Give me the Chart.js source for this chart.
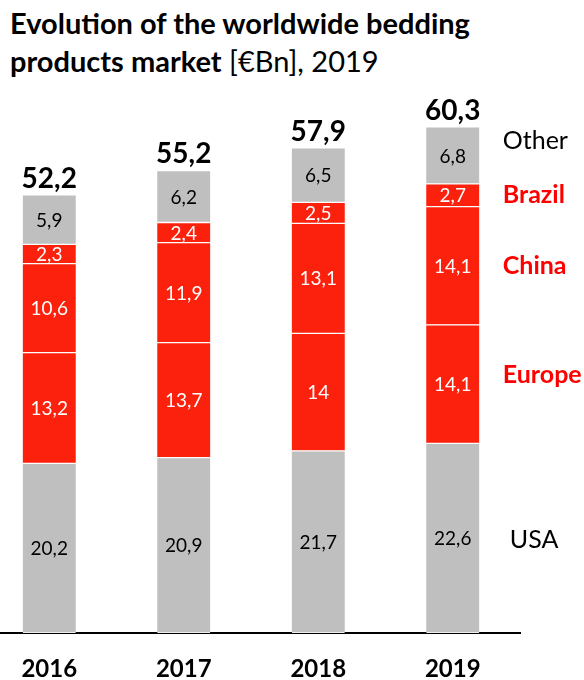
<!doctype html>
<html lang="en">
<head>
<meta charset="utf-8">
<script src="https://cdn.jsdelivr.net/npm/chart.js"></script>
<title>Bedding products market</title>
<style>
  body { margin: 0; background: #fff; overflow: hidden; }
  .title {
    position: absolute; left: 10px; top: 4px;
    font-family: Lato, sans-serif; font-size: 29px; line-height: 38px; color: #000;
  }
  .title b { font-weight: 700; }
  .chartBox { position: absolute; left: -18px; top: 0; width: 602px; height: 705px; }
</style>
</head>
<body>
  <div class="title"><b>Evolution of the worldwide bedding</b><br><b>products market</b> [€Bn], 2019</div>
  <div class="chartBox"><canvas id="myChart"></canvas></div>

<script>
  // market size by region, €Bn
  const years = ['2016', '2017', '2018', '2019'];
  const usa = [20.2, 20.9, 21.7, 22.6];
  const europe = [13.2, 13.7, 14, 14.1];
  const china = [10.6, 11.9, 13.1, 14.1];
  const brazil = [2.3, 2.4, 2.5, 2.7];
  const other = [5.9, 6.2, 6.5, 6.8];
  const totals = [52.2, 55.2, 57.9, 60.3];

  const GREY = '#bfbfbf';
  const RED = '#fc210d';
  const FONT = 'Lato, sans-serif';

  const fmt = v => String(v).replace('.', ',');

  function series(label, data, color, textColor, nameColor, bold) {
    return {
      label: label, data: data,
      backgroundColor: color,
      borderColor: '#fff',
      borderWidth: { top: 1, bottom: 1, left: 0, right: 0 },
      borderSkipped: false,
      valueColor: textColor,
      nameColor: nameColor,
      nameBold: bold
    };
  }

  // values inside segments, totals on top, region names to the right
  const labelsPlugin = {
    id: 'labels',
    afterDatasetsDraw(chart) {
      const ctx = chart.ctx;
      ctx.save();
      ctx.textAlign = 'center';
      ctx.textBaseline = 'middle';
      chart.data.datasets.forEach((ds, i) => {
        const meta = chart.getDatasetMeta(i);
        ctx.font = '19px ' + FONT;
        ctx.fillStyle = ds.valueColor;
        meta.data.forEach((bar, j) => {
          ctx.fillText(fmt(ds.data[j]), bar.x, (bar.y + bar.base) / 2 + 1);
        });
      });

      // totals
      const top = chart.getDatasetMeta(chart.data.datasets.length - 1);
      ctx.font = 'bold 28px ' + FONT;
      ctx.fillStyle = '#000';
      ctx.textBaseline = 'alphabetic';
      top.data.forEach((bar, j) => {
        ctx.fillText(fmt(totals[j]), bar.x, bar.y - 7);
      });

      // region names next to the last bar
      const nudge = { USA: [7, 2], Europe: [0, -9], China: [0, 0], Brazil: [0, 0], Other: [0, -14] };
      ctx.textAlign = 'left';
      ctx.textBaseline = 'middle';
      chart.data.datasets.forEach((ds, i) => {
        const meta = chart.getDatasetMeta(i);
        const bar = meta.data[meta.data.length - 1];
        const n = nudge[ds.label];
        ctx.font = (ds.nameBold ? 'bold ' : '') + '25px ' + FONT;
        ctx.fillStyle = ds.nameColor;
        ctx.fillText(ds.label, bar.x + 50 + n[0], (bar.y + bar.base) / 2 + n[1]);
      });
      ctx.restore();
    }
  };

  new Chart(document.getElementById('myChart'), {
    type: 'bar',
    data: {
      labels: years,
      datasets: [
        series('USA', usa, GREY, '#000', '#000', false),
        series('Europe', europe, RED, '#fff', '#ff0000', true),
        series('China', china, RED, '#fff', '#ff0000', true),
        series('Brazil', brazil, RED, '#fff', '#ff0000', true),
        series('Other', other, GREY, '#000', '#000', false)
      ]
    },
    options: {
      responsive: true,
      maintainAspectRatio: false,
      animation: false,
      layout: { padding: { left: 0, right: 64, top: 79, bottom: 0 } },
      datasets: { bar: { barThickness: 53 } },
      scales: {
        x: {
          stacked: true,
          grid: { display: false, drawTicks: false },
          border: { display: true, color: '#000', width: 2 },
          ticks: {
            color: '#000', padding: 24,
            font: { family: FONT, size: 24, weight: 'bold', lineHeight: 1 }
          }
        },
        y: { stacked: true, display: false, min: 0, max: 66 }
      },
      plugins: {
        legend: { display: false },
        tooltip: { enabled: false }
      }
    },
    plugins: [labelsPlugin]
  });
</script>
</body>
</html>
